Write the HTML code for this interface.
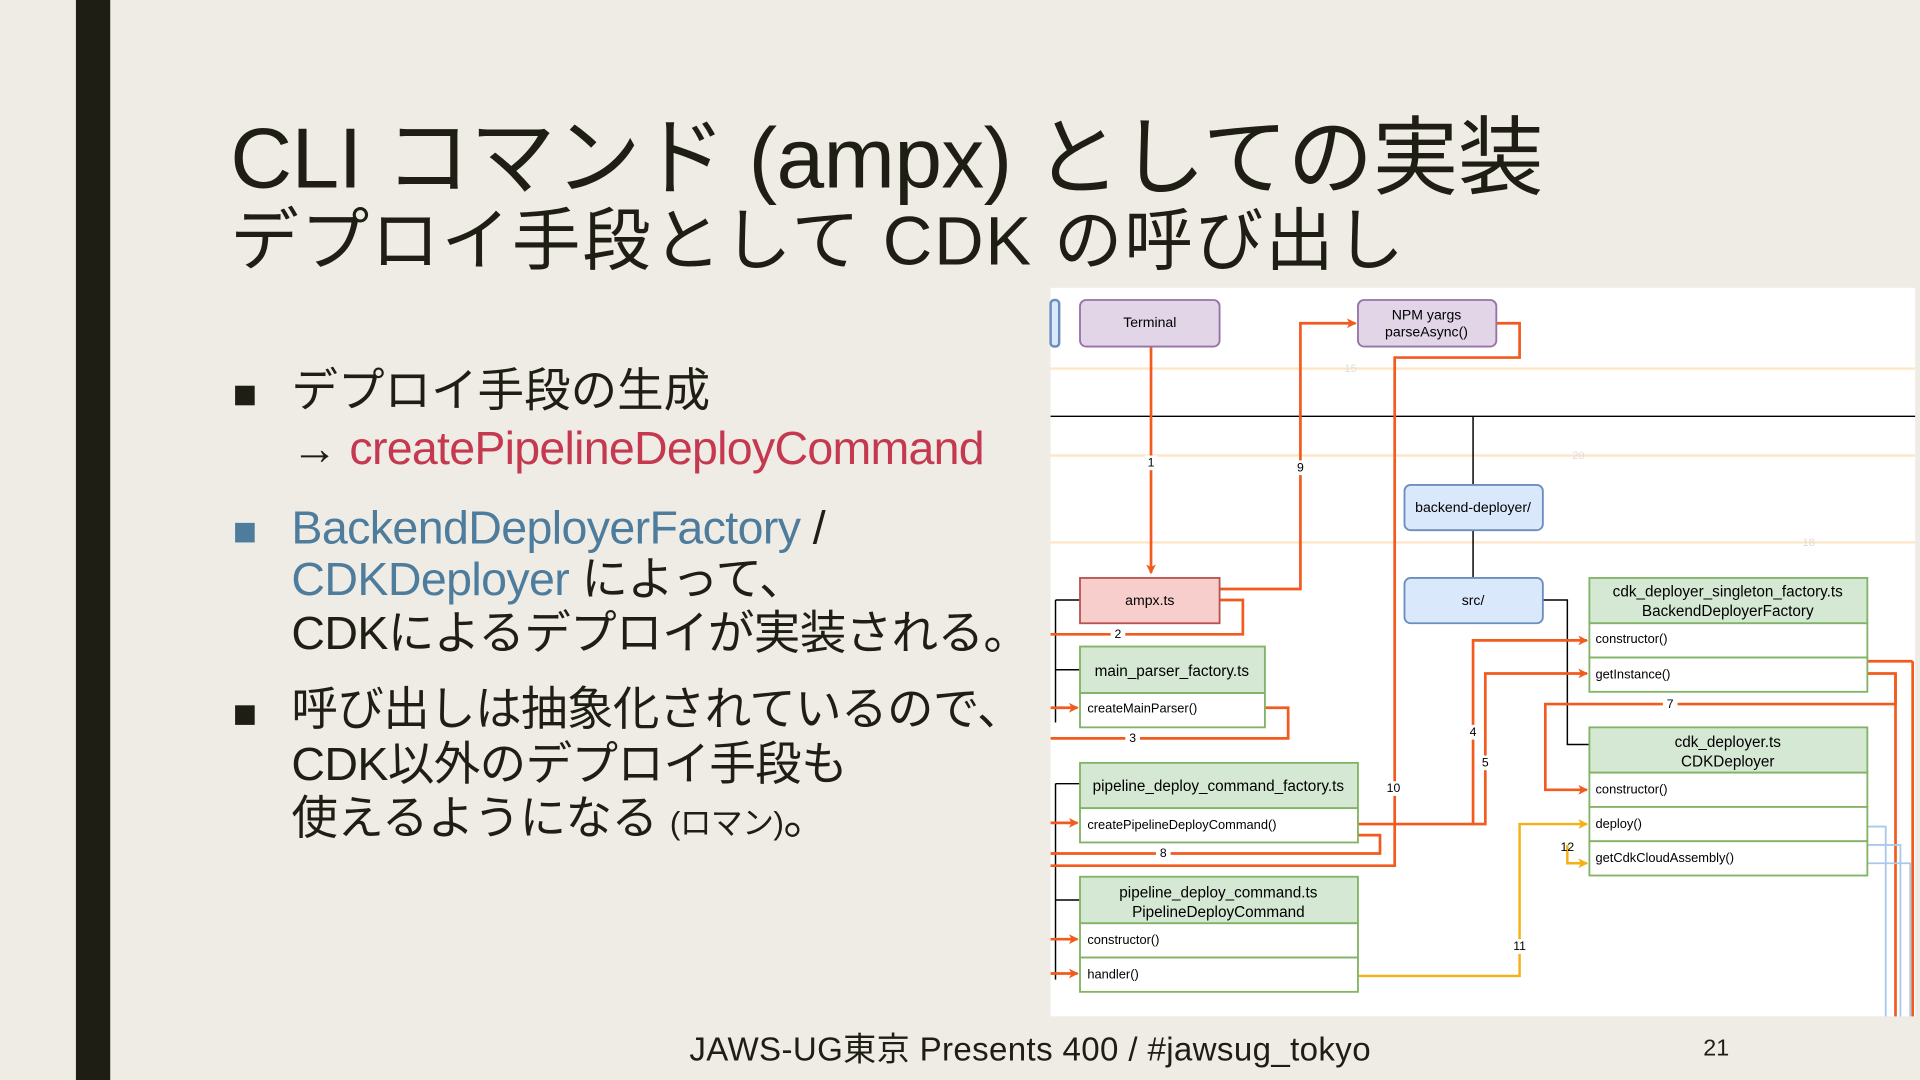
<!DOCTYPE html>
<html><head><meta charset="utf-8"><style>
html,body{margin:0;padding:0;width:1920px;height:1080px;overflow:hidden;background:#efece5}
#s{position:absolute;left:0;top:0;width:1568px;height:882px;transform:scale(1.22449);transform-origin:0 0;font-family:"Liberation Sans","Noto Sans CJK JP",sans-serif;color:#1e1e14}
.t{position:absolute;white-space:nowrap}
.b{line-height:38px;height:38px}
.sq{position:absolute;width:16px;height:16px;background:#1e1e14}
</style></head><body><div id="s">
<div style="position:absolute;left:62px;top:0;width:28px;height:882px;background:#1e1e14"></div>
<div class="t" style="left:188px;top:73px;font-size:70px;letter-spacing:-0.5px">CLI コマンド (ampx) としての実装</div>
<div class="t" style="left:188px;top:152px;font-size:56px;letter-spacing:1.5px">デプロイ手段として CDK の呼び出し</div>
<div class="sq" style="left:192px;top:315px"></div>
<div class="t b" style="left:238px;top:301px;font-size:38px">デプロイ手段の生成</div>
<div class="t b" style="left:238px;top:348px;font-size:38px;letter-spacing:-0.6px">→ <span style="color:#c4394f">createPipelineDeployCommand</span></div>
<div class="sq" style="left:192px;top:427px;background:#4e7c9c"></div>
<div class="t b" style="left:238px;top:413px;font-size:38px;letter-spacing:-0.5px"><span style="color:#4e7c9c">BackendDeployerFactory</span> /</div>
<div class="t b" style="left:238px;top:455px;font-size:38px;letter-spacing:-0.5px"><span style="color:#4e7c9c">CDKDeployer</span> によって、</div>
<div class="t b" style="left:238px;top:499px;font-size:38px;letter-spacing:-0.5px">CDKによるデプロイが実装される。</div>
<div class="sq" style="left:192px;top:576px"></div>
<div class="t b" style="left:238px;top:561px;font-size:38px;letter-spacing:-0.5px">呼び出しは抽象化されているので、</div>
<div class="t b" style="left:238px;top:606px;font-size:38px;letter-spacing:-0.5px">CDK以外のデプロイ手段も</div>
<div class="t b" style="left:238px;top:650px;font-size:38px;letter-spacing:-0.5px">使えるようになる <span style="font-size:26px">(ロマン)</span>。</div>
<div class="t" style="left:563px;top:835px;font-size:27px;letter-spacing:0.3px">JAWS-UG東京 Presents 400 / #jawsug_tokyo</div>
<div class="t" style="left:1391px;top:846px;font-size:19px">21</div>

<svg style="position:absolute;left:0;top:0" width="1568" height="882" viewBox="0 0 1568 882" font-family="Liberation Sans, sans-serif">
<defs><marker id="a" markerWidth="8" markerHeight="8" refX="7" refY="4" orient="auto" markerUnits="userSpaceOnUse"><path d="M0,0 L8,4 L0,8 L2,4z" fill="#f25a1e"/></marker>
<marker id="y" markerWidth="8" markerHeight="8" refX="7" refY="4" orient="auto" markerUnits="userSpaceOnUse"><path d="M0,0 L8,4 L0,8 L2,4z" fill="#f5b014"/></marker></defs>
<rect x="858" y="235" width="706" height="595" fill="#fff"/>
<g stroke="#fde6c8" stroke-width="2"><line x1="858" y1="301" x2="1564" y2="301"/><line x1="858" y1="372" x2="1564" y2="372"/><line x1="858" y1="443" x2="1564" y2="443"/></g>
<g fill="#ddd" font-size="9"><text x="1098" y="304">15</text><text x="1284" y="375">20</text><text x="1472" y="446">18</text></g>
<g stroke="#000" fill="none" stroke-width="1.2"><path d="M858,340 H1203 V396 M1203,433 V472 M1203,340 H1564" /><path d="M1260,490 H1280 V608 H1298 M1280,490 V580"/><path d="M862,490 H882 M862,490 V590 M862,547 H882 M862,640 H882 M862,640 V800 M862,735 H882"/></g>
<rect x="858" y="245" width="7" height="38" rx="3" fill="#dae8fc" stroke="#6c8ebf" stroke-width="2"/>
<g stroke="#f25a1e" stroke-width="2.2" fill="none">
<path d="M940,283 V468" marker-end="url(#a)"/>
<path d="M996,481 H1062 V264 H1107" marker-end="url(#a)"/>
<path d="M1222,264 H1241 V292 H1139 V707 H858"/>
<path d="M996,490 H1015 V518 H858"/>
<path d="M1033,578 H1052 V603 H858"/>
<path d="M1109,682 H1127 V697 H858"/>
<path d="M1109,673 H1203 V523 H1296" marker-end="url(#a)"/>
<path d="M1203,673 H1213 V550 H1296" marker-end="url(#a)"/>
<path d="M1525,550 H1548 V575 H1262 V645 H1296" marker-end="url(#a)"/>
<path d="M1525,540 H1562 M1548,550 V830 M1562,540 V830"/>
<path d="M858,578 H880" marker-end="url(#a)"/><path d="M858,672 H880" marker-end="url(#a)"/>
<path d="M858,767 H880" marker-end="url(#a)"/><path d="M858,795 H880" marker-end="url(#a)"/>
</g>
<g stroke="#f5b014" stroke-width="2" fill="none"><path d="M1109,797 H1241 V673 H1296" marker-end="url(#y)"/><path d="M1280,690 V705 H1296" marker-end="url(#y)"/></g>
<g stroke="#a9c9ec" stroke-width="1.5" fill="none"><path d="M1525,675 H1540 V830 M1525,690 H1552 V830 M1525,705 H1560 V830"/></g>
<g font-size="10" fill="#000" text-anchor="middle">
<rect x="935" y="372" width="10" height="12" fill="#fff"/><text x="940" y="381">1</text>
<rect x="1057" y="376" width="10" height="12" fill="#fff"/><text x="1062" y="385">9</text>
<rect x="907" y="512" width="12" height="12" fill="#fff"/><text x="913" y="521">2</text>
<rect x="919" y="597" width="12" height="12" fill="#fff"/><text x="925" y="606">3</text>
<rect x="944" y="691" width="12" height="12" fill="#fff"/><text x="950" y="700">8</text>
<rect x="1198" y="592" width="10" height="12" fill="#fff"/><text x="1203" y="601">4</text>
<rect x="1208" y="617" width="10" height="12" fill="#fff"/><text x="1213" y="626">5</text>
<rect x="1130" y="638" width="16" height="12" fill="#fff"/><text x="1138" y="647">10</text>
<rect x="1358" y="569" width="12" height="12" fill="#fff"/><text x="1364" y="578">7</text>
<rect x="1234" y="767" width="14" height="12" fill="#fff"/><text x="1241" y="776">11</text>
<text x="1280" y="695">12</text></g>
<g font-size="11.5" text-anchor="middle" fill="#000" stroke-width="1.5">
<rect x="882" y="245" width="114" height="38" rx="5" fill="#e1d5e7" stroke="#9673a6"/><text x="939" y="267">Terminal</text>
<rect x="1109" y="245" width="113" height="38" rx="5" fill="#e1d5e7" stroke="#9673a6"/><text x="1165" y="261">NPM yargs</text><text x="1165" y="275">parseAsync()</text>
<rect x="1147" y="396" width="113" height="37" rx="5" fill="#dae8fc" stroke="#6c8ebf"/><text x="1203" y="418">backend-deployer/</text>
<rect x="1147" y="472" width="113" height="37" rx="5" fill="#dae8fc" stroke="#6c8ebf"/><text x="1203" y="494">src/</text>
<rect x="882" y="472" width="114" height="37" fill="#f8cecc" stroke="#b85450"/><text x="939" y="494">ampx.ts</text>
<rect x="882" y="528" width="151" height="38" fill="#d5e8d4" stroke="#82b366"/><text x="957" y="552" font-size="12.5">main_parser_factory.ts</text>
<rect x="882" y="566" width="151" height="28" fill="#fff" stroke="#82b366"/>
<rect x="882" y="623" width="227" height="37" fill="#d5e8d4" stroke="#82b366"/><text x="995" y="646" font-size="12.5">pipeline_deploy_command_factory.ts</text>
<rect x="882" y="660" width="227" height="28" fill="#fff" stroke="#82b366"/>
<rect x="882" y="716" width="227" height="38" fill="#d5e8d4" stroke="#82b366"/><text x="995" y="733" font-size="12.5">pipeline_deploy_command.ts</text><text x="995" y="749" font-size="12.5">PipelineDeployCommand</text>
<rect x="882" y="754" width="227" height="28" fill="#fff" stroke="#82b366"/><rect x="882" y="782" width="227" height="28" fill="#fff" stroke="#82b366"/>
<rect x="1298" y="472" width="227" height="37" fill="#d5e8d4" stroke="#82b366"/><text x="1411" y="487" font-size="12.5">cdk_deployer_singleton_factory.ts</text><text x="1411" y="503" font-size="12.5">BackendDeployerFactory</text>
<rect x="1298" y="509" width="227" height="28" fill="#fff" stroke="#82b366"/><rect x="1298" y="537" width="227" height="28" fill="#fff" stroke="#82b366"/>
<rect x="1298" y="594" width="227" height="37" fill="#d5e8d4" stroke="#82b366"/><text x="1411" y="610" font-size="12.5">cdk_deployer.ts</text><text x="1411" y="626" font-size="12.5">CDKDeployer</text>
<rect x="1298" y="631" width="227" height="28" fill="#fff" stroke="#82b366"/><rect x="1298" y="659" width="227" height="28" fill="#fff" stroke="#82b366"/><rect x="1298" y="687" width="227" height="28" fill="#fff" stroke="#82b366"/>
</g>
<g font-size="10.5" fill="#000">
<text x="888" y="582">createMainParser()</text><text x="888" y="677">createPipelineDeployCommand()</text>
<text x="888" y="771">constructor()</text><text x="888" y="799">handler()</text>
<text x="1303" y="525">constructor()</text><text x="1303" y="554">getInstance()</text>
<text x="1303" y="648">constructor()</text><text x="1303" y="676">deploy()</text><text x="1303" y="704">getCdkCloudAssembly()</text>
</g>
</svg>
</div></body></html>
